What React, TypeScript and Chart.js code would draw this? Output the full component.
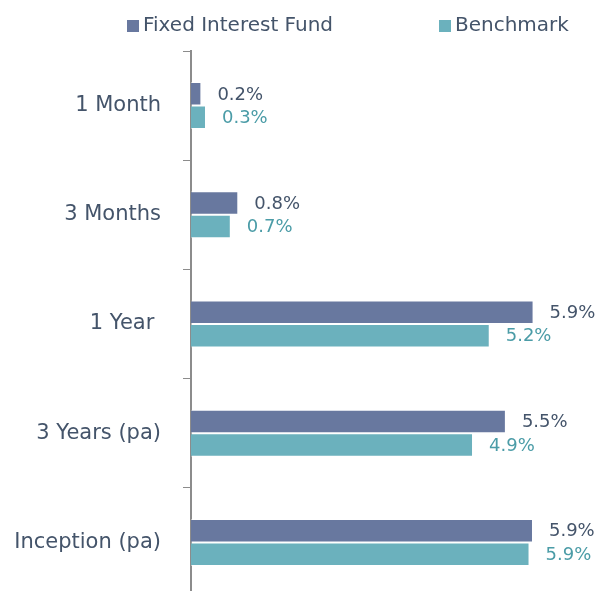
import React, { useEffect, useRef } from 'react';
import { Chart, registerables } from 'chart.js';

Chart.register(...registerables);

const categories = ['1 Month', '3 Months', '1 Year ', '3 Years (pa)', 'Inception (pa)'];
const seriesNames = ['Fixed Interest Fund', 'Benchmark'];
const fundValues = [0.18, 0.82, 5.94, 5.46, 5.93];
const benchmarkValues = [0.26, 0.69, 5.18, 4.89, 5.87];

const FONT = '"DejaVu Sans", sans-serif';
const TEXT = '#44546a';
const SERIES_COLORS = ['#68789f', '#6bb1bd'];
const LABEL_COLORS = ['#44546a', '#4b9ca7'];

const valueLabels = {
  id: 'valueLabels',
  afterDatasetsDraw(chart: any) {
    const ctx = chart.ctx;
    ctx.save();
    ctx.font = `18px ${FONT}`;
    ctx.textBaseline = 'middle';
    ctx.textAlign = 'left';
    chart.data.datasets.forEach((ds: any, di: number) => {
      const meta = chart.getDatasetMeta(di);
      ctx.fillStyle = LABEL_COLORS[di];
      meta.data.forEach((bar: any, i: number) => {
        const v = ds.data[i] as number;
        ctx.fillText(v.toFixed(1) + '%', bar.x + 16, bar.y + 1);
      });
    });
    ctx.restore();
  },
};

const customLegend = {
  id: 'customLegend',
  afterDraw(chart: any) {
    const ctx = chart.ctx;
    const starts = [127, 439];
    ctx.save();
    ctx.font = `20px ${FONT}`;
    ctx.textBaseline = 'middle';
    ctx.textAlign = 'left';
    chart.data.datasets.forEach((ds: any, i: number) => {
      const x = starts[i];
      ctx.fillStyle = SERIES_COLORS[i];
      ctx.fillRect(x, 20, 12, 12);
      ctx.fillStyle = TEXT;
      ctx.fillText(ds.label, x + 16, 26);
    });
    ctx.restore();
  },
};

export default function App() {
  const canvasRef = useRef<HTMLCanvasElement | null>(null);

  useEffect(() => {
    if (!canvasRef.current) return;
    const chart = new Chart(canvasRef.current, {
      type: 'bar',
      data: {
        labels: categories,
        datasets: [
          {
            label: seriesNames[0],
            data: fundValues,
            backgroundColor: SERIES_COLORS[0],
            borderColor: 'rgba(255,255,255,0.45)',
            borderWidth: 1,
            categoryPercentage: 0.43,
            barPercentage: 1,
          },
          {
            label: seriesNames[1],
            data: benchmarkValues,
            backgroundColor: SERIES_COLORS[1],
            borderColor: 'rgba(255,255,255,0.45)',
            borderWidth: 1,
            categoryPercentage: 0.43,
            barPercentage: 1,
          },
        ],
      },
      options: {
        indexAxis: 'y',
        responsive: false,
        animation: false,
        layout: { padding: { top: 51, bottom: 3, left: 0, right: 0 } },
        plugins: {
          legend: { display: false },
          tooltip: { enabled: false },
        },
        scales: {
          x: {
            display: false,
            min: 0,
            max: 7.3,
          },
          y: {
            afterFit: (scale: any) => {
              scale.width = 191;
              scale.paddingTop = 0;
              scale.paddingBottom = 0;
            },
            grid: {
              display: true,
              drawOnChartArea: false,
              drawTicks: true,
              tickLength: 8,
              color: '#8c8c8c',
              lineWidth: 1,
              offset: true,
            },
            border: { display: true, color: '#8c8c8c', width: 2 },
            ticks: {
              color: TEXT,
              padding: 22,
              font: { family: FONT, size: 21 },
            },
          },
        },
      },
      plugins: [valueLabels, customLegend],
    });
    return () => chart.destroy();
  }, []);

  return (
    <div style={{ position: 'absolute', left: 0, top: 0, width: 612, height: 591, overflow: 'hidden', background: '#fff' }}>
      <canvas ref={canvasRef} width={612} height={600} style={{ display: 'block' }} />
    </div>
  );
}
